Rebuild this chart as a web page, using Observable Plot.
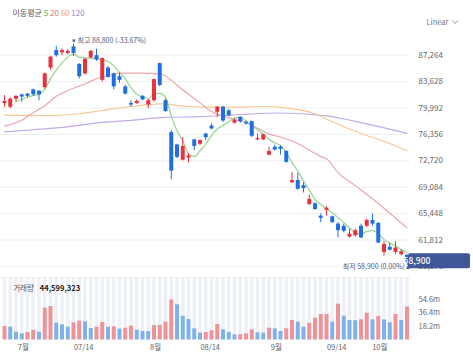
<!DOCTYPE html>
<html><head><meta charset="utf-8">
<script src="https://cdn.jsdelivr.net/npm/d3@7"></script>
<script src="https://cdn.jsdelivr.net/npm/@observablehq/plot@0.6"></script>
<style>
body{margin:0;background:#fff;font-family:"Noto Sans CJK KR","Noto Sans",sans-serif;}
#wrap{position:relative;width:473px;height:360px;overflow:hidden;background:#fff;}
.abs{position:absolute;white-space:nowrap;}
#wrap svg{position:absolute;left:0;}
</style></head><body><div id="wrap"></div>
<script>
// ---- data (KRW) ----
const opens=[80600,80100,81200,81800,81900,82500,82300,82800,85500,87900,87600,87500,88400,86000,84700,86900,87200,83800,85500,84700,84300,82900,80600,80600,81600,80400,81000,86100,81000,76600,74900,72800,73100,75600,75000,76400,77500,79400,80100,79600,77900,78700,78000,78100,75600,75600,73500,74600,74600,74000,69700,70000,69300,66700,66800,65100,65900,65000,64000,63700,62200,62400,63700,63700,64500,64100,60100,60800,60100,59800,59700];
const highs=[81700,81400,81700,81900,82000,82600,82400,84800,87100,88500,88100,88000,88800,86100,86800,87900,88100,86900,85700,84800,84800,83100,81000,81100,81700,81200,84000,86200,81200,76900,75000,75900,73700,75700,75600,76500,77800,80200,80200,79800,78500,78800,78200,78200,76400,76400,74600,74900,74800,74100,71100,71000,69700,68000,66900,65400,66400,65100,64200,64000,63300,63300,64000,64700,65400,64200,61600,61400,61600,60500,59800];
const lows=[80100,79900,80800,80800,81400,81600,81000,82600,85200,87000,87200,87300,87100,84000,84500,86800,86400,83600,84100,82500,83400,81800,80100,80500,81000,79900,80800,82900,79400,70100,73000,72700,72400,74100,74800,75500,77000,78700,78000,78800,77800,77900,77600,75900,75500,75500,73400,74100,73500,72400,69600,68700,68300,66500,65900,64200,65100,64100,62100,62800,62100,62200,62000,63500,63700,61300,59600,60300,59800,59600,58900];
const closes=[80900,81200,81600,81500,81600,81800,81800,84700,87000,87200,87900,87800,87500,84300,86700,87800,86600,86800,84200,82900,83800,81900,80400,80900,81100,81000,83900,83100,79500,71300,73200,74700,73400,74700,75500,75900,77100,80100,78200,78900,78300,78100,77800,76100,75800,76300,74000,74200,74300,72500,70000,68800,68900,67400,66000,64800,66200,64200,63100,63000,62600,63100,62100,64500,64000,61400,61200,60400,60700,60200,58900];
// volume, millions of shares
const volumesM=[18.2,17.3,10.5,8.3,10.1,13.2,10.5,42.9,45.2,22.7,20.5,17.3,23.2,25.4,24.5,15.5,17.3,23.6,17.3,17.8,14.6,15.9,18.6,13.2,11.5,11.3,19.5,19.7,24.0,54.2,47.4,32.1,27.6,15.1,9.2,10.1,12.4,20.9,13.7,10.1,7.0,7.2,8.3,13.7,9.7,9.2,15.9,15.1,11.5,15.1,26.3,24.0,17.3,22.7,29.4,34.4,34.6,24.0,48.3,32.1,26.3,26.0,27.2,36.1,27.2,31.7,27.0,23.2,34.4,26.3,44.599323];
// moving averages (candle index, value)
const ma5Idx=[2,3,4,5,6,7,8,9,10,11,12,13,14,15,16,17,18,19,20,21,22,23,24,25,26,27,28,29,30,31,32,33,34,35,36,37,38,39,40,41,42,43,44,45,46,47,48,49,50,51,52,53,54,55,56,57,58,59,60,61,62,63,64,65,66,67,68,69,70];
const ma5Val=[80900,81200,81450,81700,81900,82600,84000,85200,86200,87000,87400,87000,86900,86850,86800,86600,86400,85800,84900,84000,82800,81900,81500,81300,81900,82000,81500,78900,76900,75500,73700,73300,74100,75000,76200,77100,77600,78100,78600,78700,78200,77600,77000,76400,75700,75200,74800,73900,72500,71300,70000,68700,67400,66700,66100,65600,64900,64200,63500,62800,62600,63000,63100,62700,61900,61400,61000,60500,60100];
const ma20Idx=[0,3,5,7,9,11,14,17,18,20,24,27,28,29,31,34,36,38,40,42,44,46,48,51,53,55,56,58,61,64,67,70];
const ma20Val=[77500,78300,79350,80300,81600,82400,83300,84300,84450,84800,84800,84700,84400,83800,82500,80700,79500,78900,78400,78000,77200,76400,76000,75100,74200,73300,73000,71100,69300,67500,65500,63500];
const ma60Idx=[0,8,13,17,22,27,32,36,40,45,49,54,57,63,67,70];
const ma60Val=[79000,78950,79200,79650,80200,80550,80200,80100,80100,80200,80000,79200,78100,76200,75100,74100];
const ma120Idx=[0,5,11,17,22,28,34,41,48,56,63,70];
const ma120Val=[76700,77000,77400,78000,78300,78700,78800,79100,79300,78900,77800,76500];

const maPeriods=["5","20","60","120"];
const priceTicks=[58176,61812,65448,69084,72720,76356,79992,83628,87264];
const volumeTicks=[18.2e6,36.4e6,54.6e6];
const xTickLabels=["7월","07/14","8월","08/14","9월","09/14","10월"];
const xTickIdx=[4,14,27,36,48,58,66];

// ---- styles ----
const RED="#e8333f", BLUE="#1f6fe0";
const VRED="#ef9399", VBLUE="#7fb1ec";
const MA_LINE=["#93d48e","#eca6ab","#f5c995","#c2aae9"];
const MA_LEG=["#4caf50","#e06f78","#eea34c","#9b7ed6"];
const LABEL="#4b5c86";
const FONT="'Noto Sans CJK KR','Noto Sans',sans-serif";
const W=473, PH=278, VH=82;
const xOpts={domain:[0,opens.length-1],axis:null};
const mL=4, mR=66.5;

const candles=opens.map((o,i)=>({i,open:o,high:highs[i],low:lows[i],close:closes[i],c:closes[i]>=o?RED:BLUE}));
const vols=volumesM.map((m,i)=>({i,v:m*1e6,c:(i===0||m>=volumesM[i-1])?VRED:VBLUE}));
const toLine=(idx,val)=>idx.map((i,k)=>({i,v:val[k]}));
const maData=[toLine(ma5Idx,ma5Val),toLine(ma20Idx,ma20Val),toLine(ma60Idx,ma60Val),toLine(ma120Idx,ma120Val)];

const fmt=d3.format(",");
const maxI=d3.maxIndex(highs), minI=d3.minIndex(lows), last=closes.length-1;
const lastClose=closes[last];
const maxText=`▾ 최고 ${fmt(highs[maxI])} (${((lastClose-highs[maxI])/highs[maxI]*100).toFixed(2)}%)`;
const minText=`최저 ${fmt(lows[minI])} (${((lastClose-lows[minI])/lows[minI]*100).toFixed(2)}%) ▴`;

const price=Plot.plot({
  width:W,height:PH,marginLeft:mL,marginRight:mR,marginTop:54.7,marginBottom:12.1,
  x:xOpts,
  y:{domain:[58176,87264],axis:null},
  color:{type:"identity"},
  style:{fontFamily:FONT,color:"#666",background:"transparent",overflow:"visible"},
  marks:[
    Plot.ruleY(priceTicks,{x1:-0.7,x2:opens.length-1+0.6,stroke:"#efefef",strokeWidth:1}),
    Plot.axisY(priceTicks,{anchor:"right",tickSize:0,tickPadding:11.5,tickFormat:fmt,label:null,fontSize:8}),
    ...[3,2,1,0].map(k=>Plot.line(maData[k],{x:"i",y:"v",stroke:MA_LINE[k],strokeWidth:1.2,curve:"monotone-x"})),
    Plot.ruleX(candles,{x:"i",y1:"low",y2:"high",stroke:"c",strokeWidth:1}),
    Plot.ruleX(candles,{x:"i",y1:"open",y2:"close",stroke:"c",strokeWidth:4}),
    Plot.text([maxText],{x:maxI,y:highs[maxI],text:d=>d,textAnchor:"start",lineAnchor:"middle",dx:-1.5,dy:-3.5,fontSize:7,fill:LABEL}),
    Plot.text([minText],{x:minI,y:lows[minI],text:d=>d,textAnchor:"end",lineAnchor:"middle",dx:3.5,dy:6,fontSize:7,fill:LABEL})
  ]
});
price.style.top="0px";

// current-price tag using the plot's own scales
{
  const sy=price.scale("y"), sx=price.scale("x");
  const fy=sy.apply?sy.apply:d3.scaleLinear(sy.domain,sy.range);
  const fx=sx.apply?sx.apply:d3.scaleLinear(sx.domain,sx.range);
  const yc=fy(lastClose), tip=fx(last)-1, b=tip+3.5, r=470, h=7.5;
  const g=d3.select(price).append("g");
  g.append("path").attr("fill","#3f5797")
   .attr("d",`M${tip},${yc} L${b},${yc-h} L${r-2},${yc-h} Q${r},${yc-h} ${r},${yc-h+2} L${r},${yc+h-2} Q${r},${yc+h} ${r-2},${yc+h} L${b},${yc+h} Z`);
  g.append("text").attr("x",b+8).attr("y",yc).attr("dy","0.35em").attr("fill","#fff")
   .attr("font-size",8.5).attr("font-weight",500).attr("font-family",FONT).text(fmt(lastClose));
}

const vTop=54.6e6*(VH-20.5)/(VH-20.5-21);
const volume=Plot.plot({
  width:W,height:VH,marginLeft:mL,marginRight:mR,marginTop:21,marginBottom:20.5,
  x:xOpts,
  y:{domain:[0,54.6e6],axis:null},
  color:{type:"identity"},
  style:{fontFamily:FONT,color:"#666",background:"transparent",overflow:"visible"},
  marks:[
    Plot.ruleX(vols,{x:"i",y1:0,y2:vTop,stroke:"#eef0f7",strokeWidth:3.5}),
    Plot.ruleX(vols,{x:"i",y1:0,y2:"v",stroke:"c",strokeWidth:4}),
    Plot.axisY(volumeTicks,{anchor:"right",tickSize:0,tickPadding:11.5,tickFormat:d=>(d/1e6).toFixed(1)+"m",label:null,fontSize:7.5}),
    Plot.text(xTickIdx.map((d,k)=>({i:d,t:xTickLabels[k]})).filter(d=>d.t.endsWith("월")),{x:"i",text:"t",frameAnchor:"bottom",dy:9.8,dx:-4.2,fontSize:7.5,fill:"#666"}),
    Plot.text(xTickIdx.map((d,k)=>({i:d,t:xTickLabels[k]})).filter(d=>!d.t.endsWith("월")),{x:"i",text:"t",frameAnchor:"bottom",dy:9.8,dx:-1.3,fontSize:7.5,fill:"#666"}),
    Plot.text(["거래량"],{text:d=>d,frameAnchor:"top-left",textAnchor:"start",lineAnchor:"middle",dx:8.7,dy:-10.7,fontSize:7.5,fill:"#555"}),
    Plot.text([fmt(Math.round(volumesM[last]*1e6))],{text:d=>d,frameAnchor:"top-left",textAnchor:"start",lineAnchor:"middle",dx:35.3,dy:-10.7,fontSize:7.5,fontWeight:"bold",fill:"#222"})
  ]
});
volume.style.top=PH+"px";

const wrap=document.getElementById("wrap");
wrap.appendChild(price);
wrap.appendChild(volume);

// divider between panels
const div=document.createElement("div");
div.className="abs";
div.style.cssText="left:0;top:277px;width:410px;height:1px;background:#f1f1f1";
wrap.appendChild(div);

// legend
const leg=document.createElement("div");
leg.className="abs";
leg.style.cssText="left:12.5px;top:6.8px;font-size:8px;line-height:11px;color:#555";
leg.innerHTML="이동평균"+maPeriods.map((p,k)=>` <span style="color:${MA_LEG[k]}">${p}</span>`).join("");
wrap.appendChild(leg);

const lin=document.createElement("div");
lin.className="abs";
lin.style.cssText="left:426.5px;top:16.7px;font-size:7.5px;line-height:10px;color:#777";
lin.innerHTML='Linear <svg width="6" height="4" style="position:relative;left:2px;top:-0.5px;overflow:visible"><polyline points="0,0.5 3,3.5 6,0.5" fill="none" stroke="#888" stroke-width="0.9"/></svg>';
wrap.appendChild(lin);
</script></body></html>
